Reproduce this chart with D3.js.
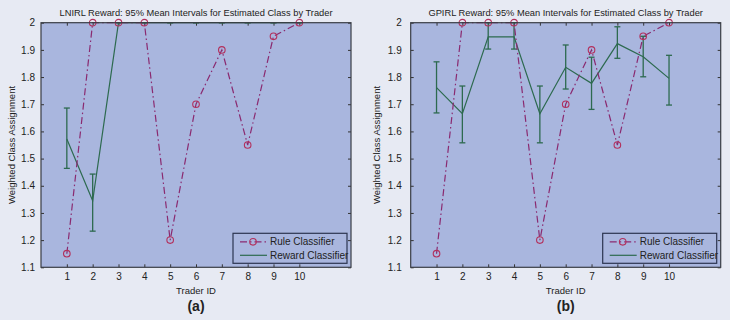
<!DOCTYPE html>
<html>
<head>
<meta charset="utf-8">
<script src="https://cdn.jsdelivr.net/npm/d3@7"></script>
<style>
  body { margin: 0; background: #e7eaf3; }
  text { font-family: 'Liberation Sans', Arial, sans-serif; fill: #222; }
</style>
</head>
<body>
<div id="chart"></div>
<script>
const traders = [1, 2, 3, 4, 5, 6, 7, 8, 9, 10]
const ruleValues = [1.15, 2, 2, 2, 1.2, 1.7, 1.9, 1.55, 1.95, 2]

const lnirlMean = [1.572, 1.345, 2, 2, 2, 2, 2, 2, 2, 2]
const lnirlLow = [1.464, 1.233, 2, 2, 2, 2, 2, 2, 2, 2]
const lnirlHigh = [1.686, 1.443, 2, 2, 2, 2, 2, 2, 2, 2]

const gpirlMean = [1.761, 1.665, 1.948, 1.948, 1.665, 1.836, 1.777, 1.923, 1.875, 1.795]
const gpirlLow = [1.668, 1.558, 1.903, 1.903, 1.558, 1.756, 1.681, 1.869, 1.801, 1.697]
const gpirlHigh = [1.856, 1.767, 2.0, 2.0, 1.767, 1.918, 1.873, 1.985, 1.95, 1.88]

const yTicks = [1.1, 1.2, 1.3, 1.4, 1.5, 1.6, 1.7, 1.8, 1.9, 2]
const legendLabels = ['Rule Classifier', 'Reward Classifier']

const panels = [
  {
    title: 'LNIRL Reward: 95% Mean Intervals for Estimated Class by Trader',
    tag: '(a)',
    origin: 0,
    left: 41,
    labelPad: 6,
    mean: lnirlMean,
    low: lnirlLow,
    high: lnirlHigh,
  },
  {
    title: 'GPIRL Reward: 95% Mean Intervals for Estimated Class by Trader',
    tag: '(b)',
    origin: 365,
    left: 410.7,
    labelPad: 9,
    mean: gpirlMean,
    low: gpirlLow,
    high: gpirlHigh,
  },
]

const plotTop = 22.7
const plotHeight = 244.6
const plotWidth = 310
const ruleColor = '#8a2a70'
const markerColor = '#b3305c'
const rewardColor = '#2d6a4f'
const plotBg = '#a9b6de'

const svg = d3
  .select('#chart')
  .append('svg')
  .attr('width', 730)
  .attr('height', 320)
  .style('background', '#e7eaf3')

panels.forEach(p => renderPanel(p))

function renderPanel(p) {
  const g = svg.append('g').attr('transform', `translate(${p.left}, ${plotTop})`)

  const x = d3.scaleLinear().domain([0, 12]).range([0, plotWidth])
  const y = d3.scaleLinear().domain([1.1, 2]).range([plotHeight, 0])

  g.append('rect')
    .attr('width', plotWidth)
    .attr('height', plotHeight)
    .attr('fill', plotBg)

  // axes, MATLAB style inward ticks on all four sides
  const styleAxis = sel => {
    sel.select('.domain').remove()
    sel.selectAll('line').attr('stroke', '#333')
    sel.selectAll('text').attr('font-size', 10).attr('fill', '#222')
  }

  g.append('g')
    .attr('transform', `translate(0, ${plotHeight})`)
    .call(d3.axisBottom(x).tickValues(traders).tickSizeInner(-3).tickSizeOuter(0).tickPadding(6))
    .call(styleAxis)
  g.append('g')
    .call(d3.axisTop(x).tickValues(traders).tickSizeInner(-3).tickSizeOuter(0).tickFormat(''))
    .call(styleAxis)
  g.append('g')
    .call(
      d3.axisLeft(y).tickValues(yTicks).tickSizeInner(-3).tickSizeOuter(0)
        .tickPadding(p.labelPad).tickFormat(d3.format('.1~f')),
    )
    .call(styleAxis)
  g.append('g')
    .attr('transform', `translate(${plotWidth}, 0)`)
    .call(d3.axisRight(y).tickValues(yTicks).tickSizeInner(-3).tickSizeOuter(0).tickFormat(''))
    .call(styleAxis)

  // reward classifier with error bars
  const rewardData = traders.map((t, i) => ({ t, m: p.mean[i], lo: p.low[i], hi: p.high[i] }))
  const bars = g.append('g').attr('stroke', rewardColor).attr('stroke-width', 1.3)
  bars.selectAll('line.err')
    .data(rewardData)
    .join('line')
    .attr('class', 'err')
    .attr('x1', d => x(d.t))
    .attr('x2', d => x(d.t))
    .attr('y1', d => y(d.lo))
    .attr('y2', d => y(d.hi))
  ;['lo', 'hi'].forEach(k => {
    bars.selectAll(`line.cap-${k}`)
      .data(rewardData)
      .join('line')
      .attr('class', `cap-${k}`)
      .attr('x1', d => x(d.t) - 3)
      .attr('x2', d => x(d.t) + 3)
      .attr('y1', d => y(d[k]))
      .attr('y2', d => y(d[k]))
  })
  g.append('path')
    .datum(rewardData)
    .attr('fill', 'none')
    .attr('stroke', rewardColor)
    .attr('stroke-width', 1.2)
    .attr('d', d3.line().x(d => x(d.t)).y(d => y(d.m)))

  // rule classifier
  const ruleData = traders.map((t, i) => ({ t, v: ruleValues[i] }))
  g.append('path')
    .datum(ruleData)
    .attr('fill', 'none')
    .attr('stroke', ruleColor)
    .attr('stroke-width', 1.2)
    .attr('stroke-dasharray', '7,3,1.5,3')
    .attr('d', d3.line().x(d => x(d.t)).y(d => y(d.v)))
  g.selectAll('circle.rule')
    .data(ruleData)
    .join('circle')
    .attr('class', 'rule')
    .attr('cx', d => x(d.t))
    .attr('cy', d => y(d.v))
    .attr('r', 3.3)
    .attr('fill', 'none')
    .attr('stroke', markerColor)
    .attr('stroke-width', 1.1)

  // box
  g.append('rect')
    .attr('width', plotWidth)
    .attr('height', plotHeight)
    .attr('fill', 'none')
    .attr('stroke', '#3a3d45')
    .attr('stroke-width', 1.2)

  // legend
  const lg = g.append('g').attr('transform', `translate(${plotWidth - 118}, ${plotHeight - 34})`)
  lg.append('rect')
    .attr('width', 114)
    .attr('height', 30)
    .attr('fill', plotBg)
    .attr('stroke', '#2c3550')
    .attr('stroke-width', 1.2)
  lg.append('line')
    .attr('x1', 7).attr('x2', 34).attr('y1', 8.5).attr('y2', 8.5)
    .attr('stroke', ruleColor).attr('stroke-width', 1.2)
    .attr('stroke-dasharray', '7,3,1.5,3')
  lg.append('circle')
    .attr('cx', 20).attr('cy', 8.5).attr('r', 3.3)
    .attr('fill', 'none').attr('stroke', markerColor).attr('stroke-width', 1.1)
  lg.append('line')
    .attr('x1', 7).attr('x2', 34).attr('y1', 22).attr('y2', 22)
    .attr('stroke', rewardColor).attr('stroke-width', 1.2)
  lg.selectAll('text')
    .data(legendLabels)
    .join('text')
    .attr('x', 37)
    .attr('y', (d, i) => 8.5 + i * 13.5)
    .attr('dy', '0.35em')
    .attr('font-size', 10)
    .text(d => d)

  // titles
  g.append('text')
    .attr('x', plotWidth / 2)
    .attr('y', -7)
    .attr('text-anchor', 'middle')
    .attr('font-size', 9.3)
    .text(p.title)
  g.append('text')
    .attr('x', plotWidth / 2)
    .attr('y', plotHeight + 27)
    .attr('text-anchor', 'middle')
    .attr('font-size', 9.5)
    .text('Trader ID')
  g.append('text')
    .attr('x', plotWidth / 2)
    .attr('y', plotHeight + 44)
    .attr('text-anchor', 'middle')
    .attr('font-size', 14)
    .attr('font-weight', 'bold')
    .text(p.tag)
  g.append('text')
    .attr('transform', `translate(${p.origin + 15 - p.left}, ${plotHeight / 2}) rotate(-90)`)
    .attr('text-anchor', 'middle')
    .attr('font-size', 9.5)
    .text('Weighted Class Assignment')
}
</script>
</body>
</html>
